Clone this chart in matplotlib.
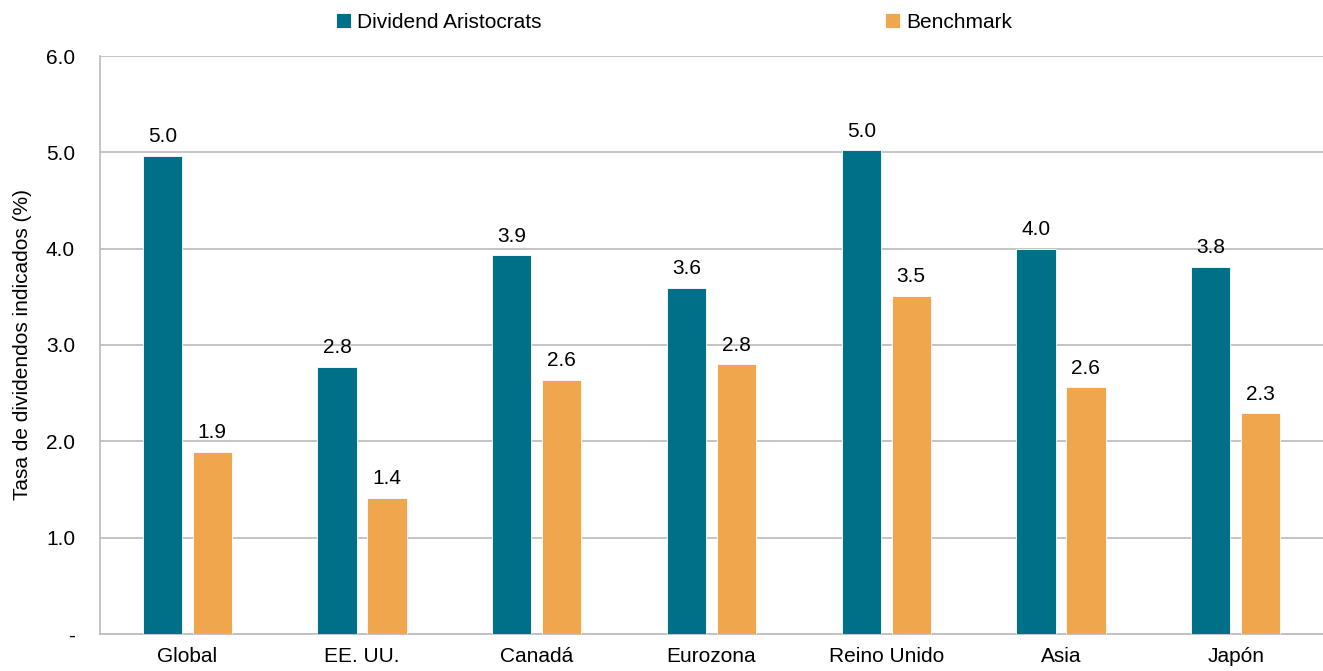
import numpy as np
import matplotlib.pyplot as plt

plt.rcParams['font.family'] = ['Liberation Sans', 'DejaVu Sans']

regions = ["Global", "EE. UU.", "Canadá", "Eurozona", "Reino Unido", "Asia", "Japón"]
aristocrats = [4.96, 2.77, 3.93, 3.59, 5.02, 4.00, 3.81]
benchmark = [1.89, 1.41, 2.64, 2.80, 3.51, 2.56, 2.29]
yticks = [0, 1, 2, 3, 4, 5, 6]
yticklabels = ["-", "1.0", "2.0", "3.0", "4.0", "5.0", "6.0"]

teal = "#006F88"
orange = "#F0A64C"
grid = "#BFBFBF"
fs = 15

fig = plt.figure(figsize=(13.23, 6.71), dpi=100)
ax = fig.add_axes([100 / 1323, 37 / 671, 1223 / 1323, 578 / 671])

x = np.arange(len(regions))
w = 0.225
offset = 0.143
b1 = ax.bar(x - offset, aristocrats, w, color=teal, label="Dividend Aristocrats",
            edgecolor="white", linewidth=0.6, zorder=3)
b2 = ax.bar(x + offset, benchmark, w, color=orange, label="Benchmark",
            edgecolor="white", linewidth=0.6, zorder=3)

for bars, vals in ((b1, aristocrats), (b2, benchmark)):
    for rect, v in zip(bars, vals):
        ax.annotate(f"{v:.1f}", (rect.get_x() + rect.get_width() / 2, v),
                    xytext=(0, 7), textcoords="offset points",
                    ha="center", va="bottom", fontsize=fs)

ax.set_xlim(-0.5, len(regions) - 0.5)
ax.set_ylim(0, 6)
ax.set_yticks(yticks)
ax.set_yticklabels(yticklabels, fontsize=fs)
ax.set_xticks(x)
ax.set_xticklabels(regions, fontsize=fs)
ax.tick_params(axis="x", length=0, pad=9)
ax.tick_params(axis="y", length=0, pad=18)
ax.yaxis.grid(True, color=grid, linewidth=1.3, zorder=0)
ax.set_axisbelow(True)
for s in ("top", "right"):
    ax.spines[s].set_visible(False)
for s in ("left", "bottom"):
    ax.spines[s].set_color(grid)
    ax.spines[s].set_linewidth(1.3)
ax.set_ylabel("Tasa de dividendos indicados (%)", fontsize=fs, labelpad=10)

fig.legend(handles=[b1, b2], loc="center", bbox_to_anchor=(674 / 1323, 1 - 22 / 671),
           ncol=2, frameon=False, fontsize=fs, handlelength=0.7, handleheight=0.7,
           handletextpad=0.3, columnspacing=16.5)

fig.savefig("out.png", dpi=100)
